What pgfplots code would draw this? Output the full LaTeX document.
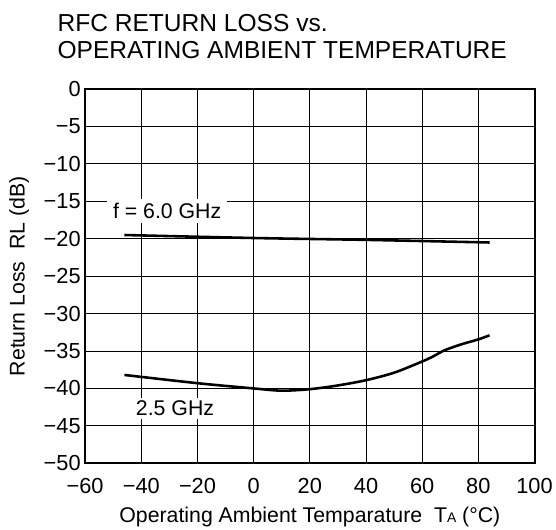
\documentclass[border=0pt]{standalone}
\usepackage{pgfplots}
\pgfplotsset{compat=1.18}
\usepackage{fontspec}
\setmainfont{Liberation Sans}
\begin{document}
\begin{tikzpicture}[x=1pt,y=1pt]
\begin{axis}[
  at={(86pt,65pt)}, anchor=south west,
  width=454pt, height=378pt, scale only axis,
  xmin=-60, xmax=100, ymin=-50, ymax=0,
  xtick={-60,-40,...,100}, ytick={-50,-45,...,0},
  xticklabels={−60,−40,−20,0,20,40,60,80,100},
  yticklabels={−50,−45,−40,−35,−30,−25,−20,−15,−10,−5,0},
  tick style={draw=none},
  grid=major, grid style={black, line width=0.9pt},
  axis line style={black, line width=2pt},
  ticklabel style={font=\fontsize{22}{24}\selectfont},
  xticklabel style={yshift=-12pt},
  yticklabel style={xshift=-1pt},
  xlabel={Operating Ambient Temparature\ \ T{\fontsize{14}{14}\selectfont A} (°C)},
  ylabel={Return Loss\ \ RL (dB)},
  label style={font=\fontsize{21.5}{24}\selectfont},
  xlabel style={yshift=-6pt},
  ylabel style={yshift=8pt},
  title={RFC RETURN LOSS vs.\\OPERATING AMBIENT TEMPERATURE},
  title style={font=\fontsize{24.8}{28}\selectfont, align=left, anchor=south west, at={(rel axis cs:0,1)}, xshift=-28pt, yshift=24pt, inner sep=0pt},
  clip=false,
]
\addplot[black, line width=2.6pt, smooth] coordinates {(-46,-19.5) (0,-19.9) (40,-20.15) (84,-20.5)};
\addplot[black, line width=2.6pt, smooth, tension=0.5] coordinates {(-46,-38.2) (-20,-39.3) (0,-40.0) (10,-40.3) (20,-40.1) (30,-39.6) (40,-38.9) (50,-37.9) (60,-36.4) (64,-35.7) (68,-34.9) (74,-34.1) (80,-33.45) (84,-32.9)};
\node[fill=white, inner xsep=6pt, inner ysep=4pt, font=\fontsize{21.5}{24}\selectfont] at (axis cs:-30.8,-16.3) {f = 6.0 GHz};
\node[fill=white, inner xsep=3pt, inner ysep=3pt, font=\fontsize{21.5}{24}\selectfont] at (axis cs:-28,-42.7) {2.5 GHz};
\end{axis}
\path (0,0) rectangle (556,533);
\end{tikzpicture}
\end{document}
